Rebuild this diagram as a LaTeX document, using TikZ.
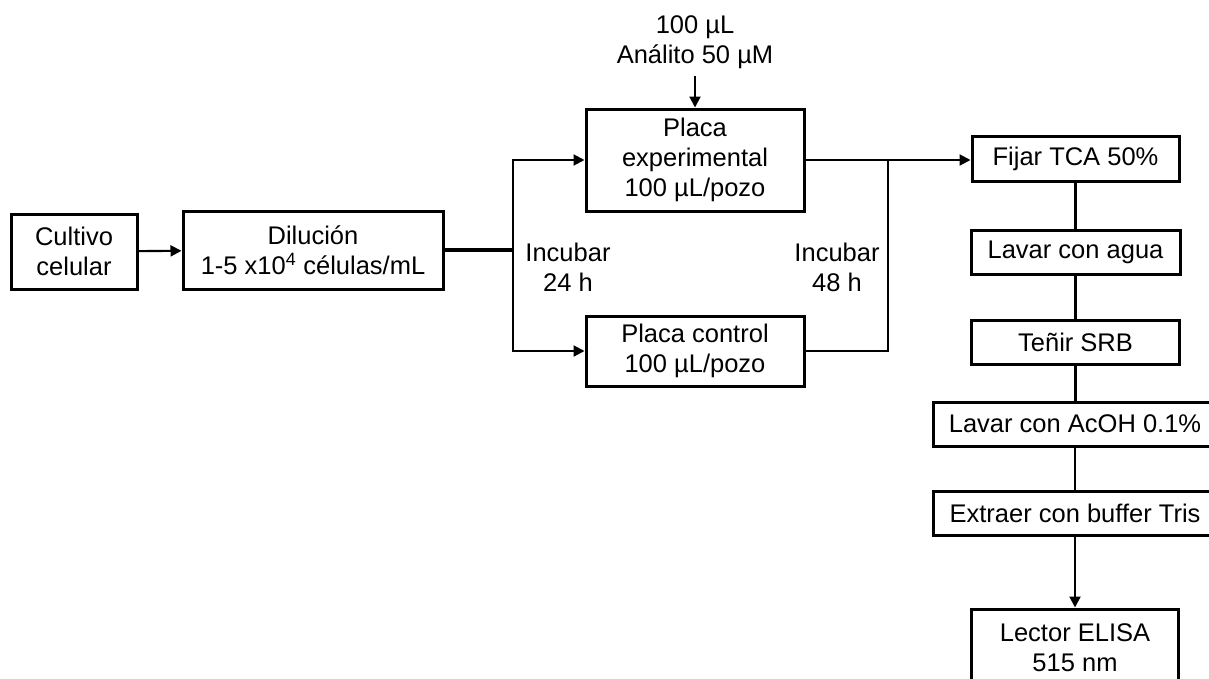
\documentclass[tikz,border=0pt]{standalone}
\usepackage{fontspec}
\setmainfont{Liberation Sans}
\usetikzlibrary{arrows.meta}
\begin{document}
\begin{tikzpicture}[x=1pt,y=-1pt,
  font=\fontsize{25.5}{30}\selectfont,
  box/.style={draw, line width=3pt, inner sep=0pt, align=center},
  conn/.style={line width=2.1pt},
  arr/.style={conn, -{Triangle[length=11pt,width=11pt]}},
  lbl/.style={align=center, inner sep=0pt}]
\clip (0,0) rectangle (1209,678);
\useasboundingbox (0,0) rectangle (1209,678);
% left part
\node[box, minimum width=126pt, minimum height=75pt] (cult) at (74,251.5) {Cultivo\\celular};
\node[box, minimum width=260pt, minimum height=78pt] (dil) at (313,250) {Dilución\\1-5 x10\textsuperscript{4} células/mL};
\node[box, minimum width=218pt, minimum height=102pt] (exp) at (695,160) {Placa\\experimental\\100 µL/pozo};
\node[box, minimum width=218pt, minimum height=70pt] (ctrl) at (695,351) {Placa control\\100 µL/pozo};
\node[lbl] (ana) at (695,42) {100 µL\\Análito 50 µM};
\node[lbl] (inc1) at (568,267) {Incubar\\24 h};
\node[lbl] (inc2) at (837,267) {Incubar\\48 h};
% right column
\node[box, minimum width=207pt, minimum height=45pt] (fijar) at (1075.5,158.5) {Fijar TCA 50\%};
\node[box, minimum width=209pt, minimum height=44pt] (agua) at (1075.5,252) {Lavar con agua};
\node[box, minimum width=208pt, minimum height=44pt] (srb) at (1075.5,342.5) {Teñir SRB};
\node[box, minimum width=284pt, minimum height=44pt] (acoh) at (1075,424) {Lavar con AcOH 0.1\%};
\node[box, minimum width=284pt, minimum height=44pt] (extr) at (1075,513) {Extraer con buffer Tris};
\node[box, minimum width=207pt, minimum height=78pt] (lect) at (1075,648) {Lector ELISA\\515 nm};
% coordinates
\coordinate (split) at (513,250);
\coordinate (merge) at (888,160);
% connectors
\draw[arr] (cult) -- (dil);
\draw[line width=3.6pt] (dil.east) -- (split);
\draw[arr] (split) |- (exp.west);
\draw[arr] (split) |- (ctrl.west);
\draw[arr] ([yshift=-7pt]ana.south) -- (exp.north);
\draw[arr] (exp.east) -- (exp.east -| fijar.west);
\draw[conn] (ctrl.east) -| (merge);
\draw[conn] (fijar.south) -- (fijar.south |- agua.north);
\draw[conn] (agua.south) -- (agua.south |- srb.north);
\draw[conn] (srb.south) -- (srb.south |- acoh.north);
\draw[conn] (acoh.south) -- (acoh.south |- extr.north);
\draw[arr] (extr.south) -- (extr.south |- lect.north);
\end{tikzpicture}
\end{document}
